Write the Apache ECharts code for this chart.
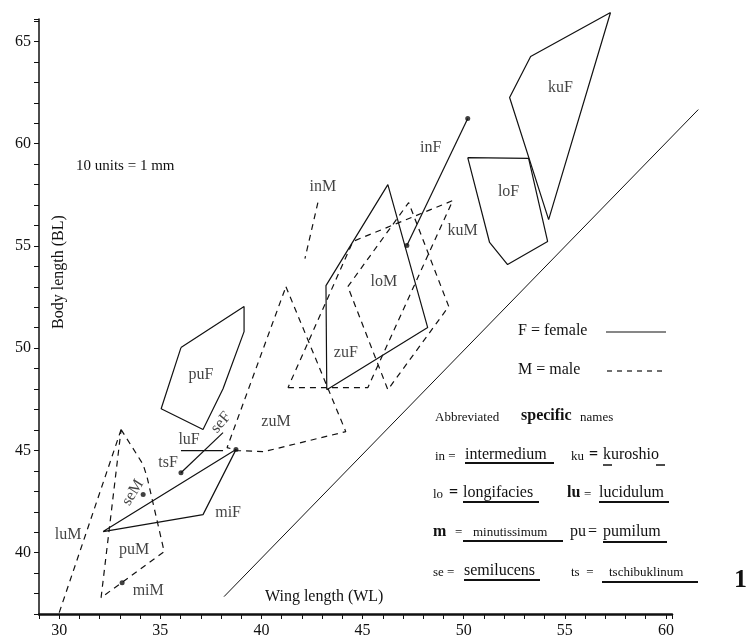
<!DOCTYPE html>
<html>
<head>
<meta charset="utf-8">
<script src="https://cdn.jsdelivr.net/npm/echarts@6/dist/echarts.min.js"></script>
<style>
html, body { margin: 0; padding: 0; background: #fff; }
#chart { width: 749px; height: 642px; }
</style>
</head>
<body>
<div id="chart"></div>
<script>
// outlines as [wing length, body length]; names ending in F = female, M = male
var kuF = [[57.26, 66.42], [53.31, 64.27], [52.27, 62.26], [54.20, 56.29]];
var loF = [[50.20, 59.32], [53.21, 59.28], [54.15, 55.22], [52.17, 54.09], [51.28, 55.17]];
var zuF = [[43.23, 47.97], [43.19, 53.06], [46.25, 58.00], [48.22, 51.01]];
var puF = [[36.02, 50.03], [39.14, 52.04], [39.14, 50.81], [38.10, 48.02], [37.11, 46.02], [35.04, 47.04]];
var miF = [[32.17, 41.03], [37.11, 41.86], [38.74, 45.04]];
var inF = [[50.20, 61.23], [47.19, 55.02]];
var luF = [[36.02, 44.99], [38.10, 44.99]];
var seF = [[36.02, 43.91], [38.10, 45.87]];

var loM = [[44.27, 53.01], [47.28, 57.12], [49.26, 52.04], [46.25, 47.97]];
var kuM = [[41.31, 48.07], [45.26, 48.07], [49.46, 57.22], [44.52, 55.22]];
var zuM = [[41.21, 53.01], [44.17, 45.92], [40.12, 44.94], [38.84, 44.99], [38.30, 45.14]];
var puM = [[33.06, 46.02], [34.15, 44.31], [34.35, 43.67], [35.19, 40.05], [32.07, 37.80]];
var inM = [[42.79, 57.12], [42.15, 54.38]];
var luM = [[30.00, 37.07], [33.06, 46.02]];

var refLine = [[38.15, 37.85], [61.60, 61.67]];

var dots = [[50.20, 61.23], [47.19, 55.02], [36.02, 43.91], [34.15, 42.84], [33.11, 38.53], [38.74, 45.04]];

var labelNames = ['kuF', 'loF', 'inF', 'kuM', 'inM', 'loM', 'zuF', 'zuM', 'puF', 'luF', 'seF', 'tsF', 'miF', 'seM', 'luM', 'puM', 'miM'];
var labelPos = [[54.79, 62.75], [52.22, 57.66], [48.37, 59.81], [49.95, 55.75], [43.04, 57.91], [46.05, 53.26],
  [44.17, 49.78], [40.72, 46.41], [37.01, 48.71], [36.42, 45.53], [38.00, 46.36], [35.38, 44.40],
  [38.35, 41.96], [33.65, 42.94], [30.44, 40.88], [33.70, 40.15], [34.40, 38.14]];
var labelTilt = { seF: 50, seM: 58 };

var xLabels = [30, 35, 40, 45, 50, 55, 60];
var yLabels = [40, 45, 50, 55, 60, 65];

var closedShapes = { kuF: kuF, loF: loF, zuF: zuF, puF: puF, miF: miF, loM: loM, kuM: kuM, zuM: zuM, puM: puM };
var openShapes = { inF: inF, luF: luF, seF: seF, inM: inM, luM: luM };

var serif = '"Liberation Serif", "DejaVu Serif", serif';
var ink = '#111';

function outline(name, pts, closed) {
  var male = name.charAt(name.length - 1) === 'M';
  return {
    name: name,
    type: 'line',
    data: closed ? pts.concat([pts[0]]) : pts,
    symbol: 'none',
    clip: false,
    silent: true,
    lineStyle: { color: ink, width: 1.2, type: male ? [6, 5] : 'solid' }
  };
}

var series = [];
Object.keys(closedShapes).forEach(function (k) { series.push(outline(k, closedShapes[k], true)); });
Object.keys(openShapes).forEach(function (k) { series.push(outline(k, openShapes[k], false)); });

// the long diagonal runs past the end of the x axis, so draw it unclipped
series.push({
  type: 'custom',
  data: [refLine[0]],
  clip: false,
  silent: true,
  renderItem: function (params, api) {
    var pts = refLine.map(function (p) { return api.coord(p); });
    return { type: 'polyline', shape: { points: pts }, style: { stroke: ink, lineWidth: 1, fill: null } };
  }
});

series.push({
  type: 'scatter',
  data: dots,
  symbolSize: 5,
  itemStyle: { color: ink },
  silent: true
});

series.push({
  type: 'scatter',
  data: labelNames.map(function (n, i) {
    return { name: n, value: labelPos[i], label: { rotate: labelTilt[n] || 0 } };
  }),
  symbolSize: 1,
  itemStyle: { color: 'rgba(0,0,0,0)' },
  silent: true,
  label: {
    show: true,
    position: 'inside',
    formatter: '{b}',
    fontFamily: serif,
    fontSize: 16,
    color: ink
  }
});

function txt(x, y, s, size, extra) {
  var el = {
    type: 'text', x: x, y: y, silent: true,
    style: { text: s, font: (extra && extra.bold ? 'bold ' : '') + size + 'px ' + serif, fill: ink, verticalAlign: 'middle', align: 'left' }
  };
  if (extra && extra.align) el.style.align = extra.align;
  if (extra && extra.rotation) el.rotation = extra.rotation;
  return el;
}
function uline(x1, x2, y, w) {
  return { type: 'line', silent: true, shape: { x1: x1, y1: y, x2: x2, y2: y }, style: { stroke: ink, lineWidth: w || 2 } };
}

var graphics = [
  txt(76, 166, '10 units = 1 mm', 15),
  txt(59, 272, 'Body length (BL)', 16, { align: 'center', rotation: Math.PI / 2 }),
  txt(265, 597, 'Wing length (WL)', 16),
  txt(518, 331, 'F = female', 16),
  { type: 'line', silent: true, shape: { x1: 606, y1: 332, x2: 666, y2: 332 }, style: { stroke: ink, lineWidth: 1.2 } },
  txt(518, 370, 'M = male', 16),
  { type: 'line', silent: true, shape: { x1: 607, y1: 371, x2: 667, y2: 371 }, style: { stroke: ink, lineWidth: 1.2, lineDash: [5, 5] } },
  txt(435, 418, 'Abbreviated', 13),
  txt(521, 416, 'specific', 16, { bold: true }),
  txt(580, 418, 'names', 13),

  txt(435, 457, 'in =', 13), txt(465, 455, 'intermedium', 16), uline(465, 554, 463),
  txt(571, 457, 'ku', 13), txt(589, 455, '=', 16, { bold: true }), txt(603, 455, 'kuroshio', 16),
  uline(603, 612, 465, 1.5), uline(656, 665, 465, 1.5),

  txt(433, 495, 'lo', 13), txt(449, 493, '=', 16, { bold: true }), txt(463, 493, 'longifacies', 16), uline(463, 539, 502),
  txt(567, 493, 'lu', 16, { bold: true }), txt(584, 495, '=', 13), txt(599, 493, 'lucidulum', 16), uline(599, 669, 502),

  txt(433, 532, 'm', 16, { bold: true }), txt(455, 533, '=', 13), txt(473, 533, 'minutissimum', 13), uline(463, 563, 541),
  txt(570, 532, 'pu', 16), txt(588, 532, '=', 16), txt(603, 532, 'pumilum', 16), uline(603, 667, 542),

  txt(433, 573, 'se =', 13), txt(464, 571, 'semilucens', 16), uline(464, 540, 580),
  txt(571, 573, 'ts  =', 13), txt(609, 573, 'tschibuklinum', 13), uline(602, 698, 582),

  txt(734, 580, '1', 26, { bold: true })
];

var chart = echarts.init(document.getElementById('chart'));
chart.setOption({
  backgroundColor: '#fff',
  animation: false,
  grid: { left: 39, right: 77, top: 19, bottom: 28 },
  xAxis: {
    type: 'value',
    min: 29,
    max: 60.3,
    interval: 1,
    axisLine: { show: true, lineStyle: { color: ink, width: 2.5 } },
    axisTick: { show: true, length: 5, lineStyle: { color: ink, width: 1 } },
    axisLabel: {
      margin: 9,
      fontFamily: serif, fontSize: 16, color: ink,
      formatter: function (v) { return xLabels.indexOf(v) >= 0 ? String(v) : ''; }
    },
    splitLine: { show: false }
  },
  yAxis: {
    type: 'value',
    min: 37,
    max: 66.1,
    interval: 1,
    axisLine: { show: true, lineStyle: { color: ink, width: 1.5 } },
    axisTick: { show: true, length: 5, lineStyle: { color: ink, width: 1 } },
    axisLabel: {
      margin: 8,
      fontFamily: serif, fontSize: 16, color: ink,
      formatter: function (v) { return yLabels.indexOf(v) >= 0 ? String(v) : ''; }
    },
    splitLine: { show: false }
  },
  graphic: graphics,
  series: series
});
</script>
</body>
</html>
